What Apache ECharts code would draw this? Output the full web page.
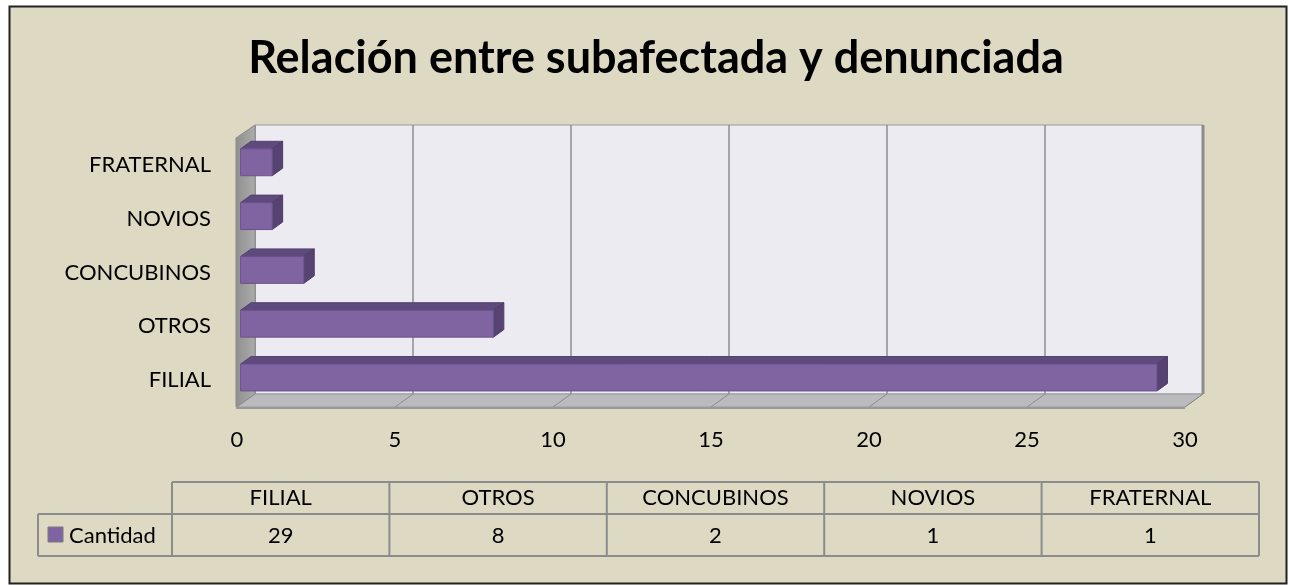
<!DOCTYPE html>
<html>
<head>
<meta charset="utf-8">
<script src="https://cdn.jsdelivr.net/npm/echarts@6/dist/echarts.min.js"></script>
<style>
  html, body { margin: 0; padding: 0; background: #fff; }
  #chart { width: 1289px; height: 585px; }
</style>
</head>
<body>
<div id="chart"></div>
<script>
const titleText = 'Relación entre subafectada y denunciada';
const seriesName = 'Cantidad';
const categories = ['FILIAL', 'OTROS', 'CONCUBINOS', 'NOVIOS', 'FRATERNAL'];
const values = [29, 8, 2, 1, 1];
const xTicks = [0, 5, 10, 15, 20, 25, 30];

const FONT = 'Lato';
// 3D depth offset of the plot box
const DX = 18, DY = -13;
const F0 = 0.2, F1 = 0.78;

const chartDom = document.getElementById('chart');
const myChart = echarts.init(chartDom);

function wallsItem(params, api) {
  const cs = params.coordSys;
  const left = cs.x, top = cs.y, right = cs.x + cs.width, bottom = cs.y + cs.height;
  const kids = [];
  // back wall
  kids.push({
    type: 'rect',
    shape: { x: left + DX, y: top + DY, width: right - left, height: bottom - top },
    style: { fill: '#EDEBF2', stroke: '#9a9a9a', lineWidth: 1 }
  });
  // gridlines on back wall
  xTicks.forEach(function (t) {
    const x = api.coord([t, 0])[0] + DX;
    kids.push({
      type: 'line',
      shape: { x1: x, y1: top + DY, x2: x, y2: bottom + DY },
      style: { stroke: '#8c8c8c', lineWidth: t === xTicks[xTicks.length - 1] ? 3 : 1.5 }
    });
  });
  // left wall
  kids.push({
    type: 'polygon',
    shape: { points: [[left - 1, top], [left + DX, top + DY], [left + DX, bottom + DY], [left - 1, bottom]] },
    style: {
      fill: new echarts.graphic.LinearGradient(0, 0, 1, 0, [
        { offset: 0, color: '#8f8f8f' }, { offset: 1, color: '#acacac' }
      ]),
      stroke: '#8a8a8a', lineWidth: 1
    }
  });
  // floor
  kids.push({
    type: 'polygon',
    shape: { points: [[left - 1, bottom], [left + DX, bottom + DY], [right + DX, bottom + DY], [right, bottom]] },
    style: { fill: '#BBBBBF', stroke: '#9a9a9a', lineWidth: 1 }
  });
  xTicks.forEach(function (t) {
    const x = api.coord([t, 0])[0];
    kids.push({
      type: 'line',
      shape: { x1: x, y1: bottom, x2: x + DX, y2: bottom + DY },
      style: { stroke: '#8c8c8c', lineWidth: 1 }
    });
  });
  kids.push({
    type: 'line',
    shape: { x1: left - 1, y1: bottom + 1, x2: right, y2: bottom + 1 },
    style: { stroke: '#999999', lineWidth: 2 }
  });
  return { type: 'group', children: kids };
}

function barItem(params, api) {
  const v = api.value(0), i = api.value(1);
  const p0 = api.coord([0, i]);
  const p1 = api.coord([v, i]);
  const band = api.size([0, 1])[1];
  const h = band * 0.5;
  const ox = DX * F0, oy = DY * F0;
  const bx = DX * (F1 - F0), by = DY * (F1 - F0);
  const x0 = p0[0] + ox, x1 = p1[0] + ox;
  const yT = p0[1] - h / 2 + oy, yB = yT + h;
  return {
    type: 'group',
    children: [
      {
        type: 'polygon',
        shape: { points: [[x0, yT], [x1, yT], [x1 + bx, yT + by], [x0 + bx, yT + by]] },
        style: { fill: '#5F4A7E', stroke: '#55416f', lineWidth: 1 }
      },
      {
        type: 'polygon',
        shape: { points: [[x1, yT], [x1 + bx, yT + by], [x1 + bx, yB + by], [x1, yB]] },
        style: { fill: '#574371', stroke: '#4e3c66', lineWidth: 1 }
      },
      {
        type: 'rect',
        shape: { x: x0, y: yT, width: x1 - x0, height: h },
        style: { fill: '#8064A2', stroke: '#6a528a', lineWidth: 1 }
      }
    ]
  };
}

// data table under the chart
function tableGraphics() {
  const els = [];
  const tl = 172, colW = 217.4, legL = 38;
  const yA = 482, yB = 514, yC = 556;
  const tr = tl + colW * categories.length;
  const ln = { stroke: '#8c8c8c', lineWidth: 2 };
  const font = '22px ' + FONT;
  els.push({ type: 'line', shape: { x1: tl, y1: yA, x2: tr, y2: yA }, style: ln });
  els.push({ type: 'line', shape: { x1: legL, y1: yB, x2: tr, y2: yB }, style: ln });
  els.push({ type: 'line', shape: { x1: legL, y1: yC, x2: tr, y2: yC }, style: ln });
  els.push({ type: 'line', shape: { x1: legL, y1: yB, x2: legL, y2: yC }, style: ln });
  for (let k = 0; k <= categories.length; k++) {
    const x = tl + colW * k;
    els.push({ type: 'line', shape: { x1: x, y1: yA, x2: x, y2: yC }, style: ln });
  }
  categories.forEach(function (c, k) {
    const cx = tl + colW * (k + 0.5);
    els.push({
      type: 'text', x: cx, y: (yA + yB) / 2,
      style: { text: c, fill: '#000', font: font, textAlign: 'center', textVerticalAlign: 'middle' }
    });
    els.push({
      type: 'text', x: cx, y: (yB + yC) / 2 + 1,
      style: { text: String(values[k]), fill: '#000', font: font, textAlign: 'center', textVerticalAlign: 'middle' }
    });
  });
  els.push({
    type: 'rect', shape: { x: 48, y: 527, width: 15, height: 15 },
    style: { fill: '#8064A2', stroke: '#7a7a7a', lineWidth: 1 }
  });
  els.push({
    type: 'text', x: 69, y: (yB + yC) / 2 + 1,
    style: { text: seriesName, fill: '#000', font: font, textAlign: 'left', textVerticalAlign: 'middle' }
  });
  return els;
}

let option = {
  backgroundColor: '#ffffff',
  animation: false,
  title: {
    text: titleText,
    left: 651,
    top: 31,
    textAlign: 'center',
    textStyle: { fontFamily: FONT, fontWeight: 'bold', fontSize: 45, color: '#000' }
  },
  grid: { left: 237, right: 104, top: 138, bottom: 178 },
  xAxis: {
    type: 'value',
    min: 0,
    max: 30,
    interval: 5,
    axisLine: { show: false },
    axisTick: { show: false },
    splitLine: { show: false },
    axisLabel: { fontFamily: FONT, fontSize: 22, color: '#000', margin: 22 }
  },
  yAxis: {
    type: 'category',
    data: categories,
    axisLine: { show: false },
    axisTick: { show: false },
    splitLine: { show: false },
    axisLabel: { fontFamily: FONT, fontSize: 22, color: '#000', margin: 26 }
  },
  graphic: [
    {
      type: 'rect', z: -100,
      shape: { x: 9.5, y: 6.5, width: 1277, height: 577 },
      style: { fill: '#DDD9C3', stroke: '#222', lineWidth: 2 }
    }
  ].concat(tableGraphics()),
  series: [
    {
      type: 'custom',
      name: 'walls',
      silent: true,
      z: 1,
      renderItem: wallsItem,
      data: [[0, 0]]
    },
    {
      type: 'custom',
      name: seriesName,
      z: 3,
      renderItem: barItem,
      encode: { x: 0, y: 1 },
      data: values.map(function (v, i) { return [v, i]; })
    }
  ]
};

myChart.setOption(option);
</script>
</body>
</html>
